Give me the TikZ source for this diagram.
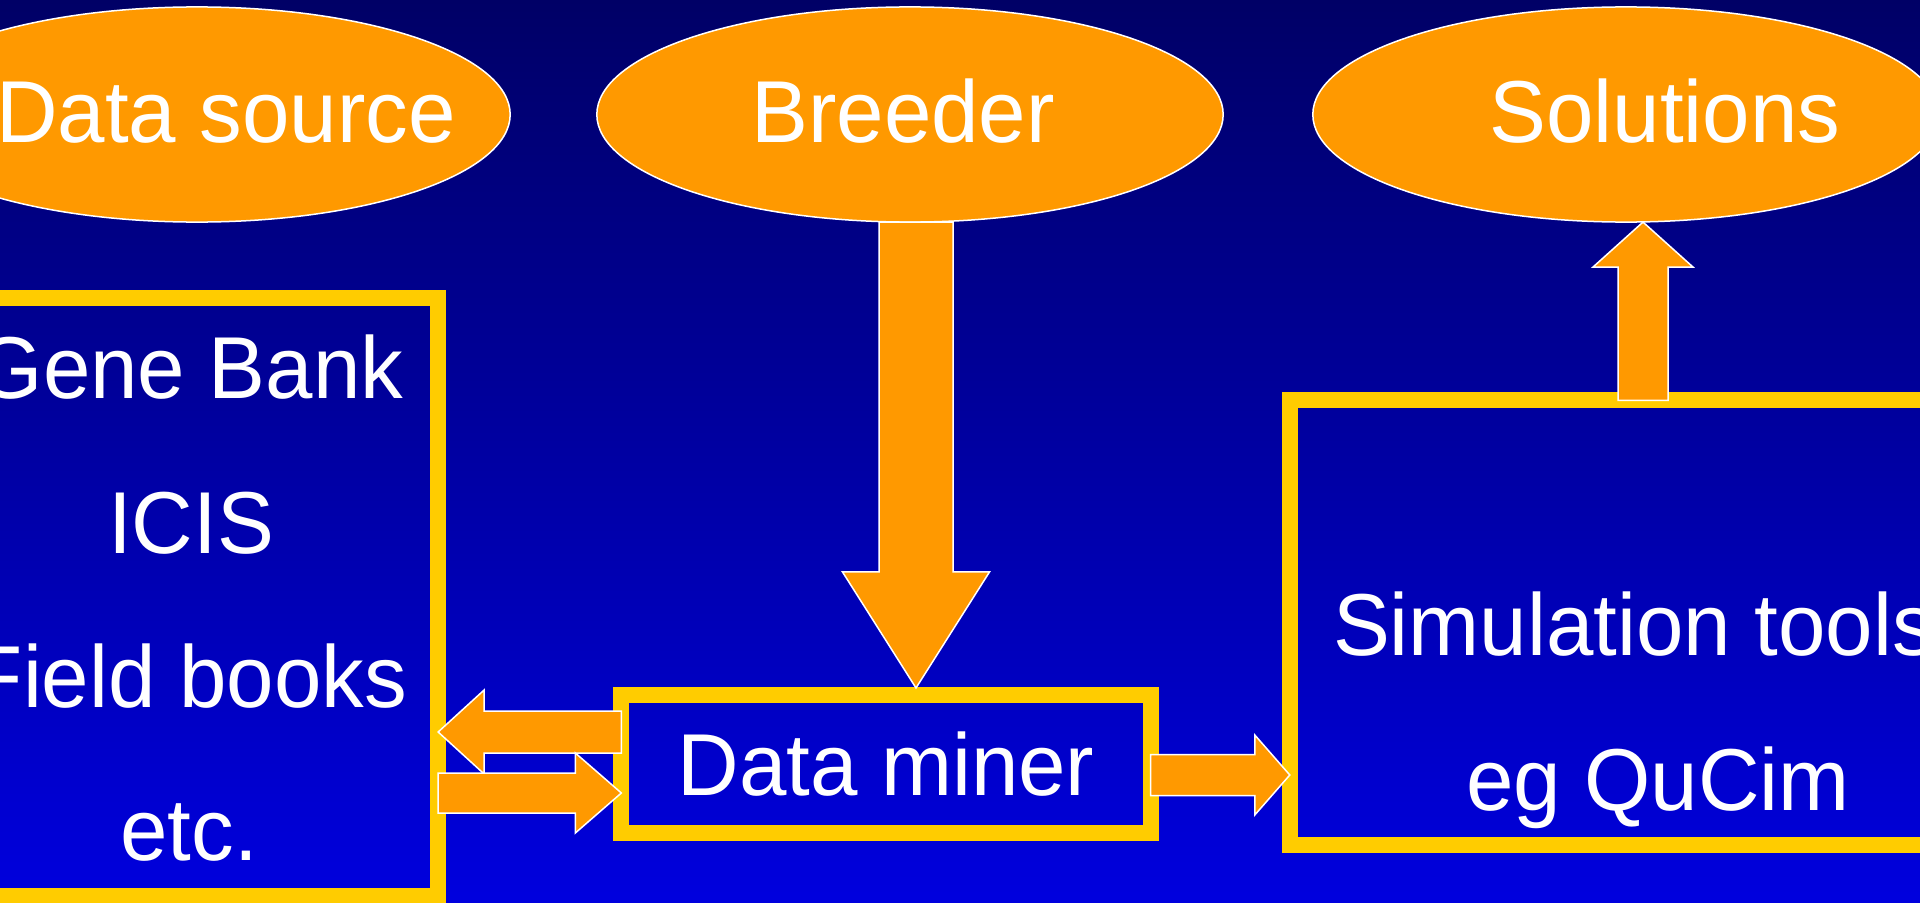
\documentclass[tikz,border=0pt]{standalone}
\usepackage{fontspec}
\setmainfont[FakeStretch=0.97]{Liberation Sans}
\usetikzlibrary{shapes.geometric,calc}
\definecolor{bgtop}{RGB}{0,0,102}
\definecolor{bgbot}{RGB}{0,0,222}
\definecolor{orng}{RGB}{255,153,0}
\definecolor{ylw}{RGB}{255,204,0}
\tikzset{
  oval/.style={ellipse, fill=orng, draw=white, line width=0.15mm, minimum width=62.6mm, minimum height=21.5mm, inner sep=0pt, outer sep=0pt},
  frame/.style={rectangle, draw=ylw, line width=1.6mm, inner sep=0pt, outer sep=0pt},
  txt/.style={text=white, font=\fontsize{25}{30}\selectfont},
  lbl/.style={txt, inner sep=0pt, anchor=base},
  barrow/.style={fill=orng, draw=white, line width=0.15mm, line join=miter},
}
\begin{document}
\begin{tikzpicture}[x=0.01cm, y=-0.01cm]
\useasboundingbox (0,0) rectangle (1920,903);
\clip (0,0) rectangle (1920,903);
\shade[top color=bgtop, bottom color=bgbot] (0,0) rectangle (1920,903);

% ellipses
\node[oval] (ds) at (197,114.5) {};
\node[oval] (br) at (910,114.5) {};
\node[oval] (so) at (1626,114.5) {};
\node[lbl] (dsT) at (226,143) {Data source};
\node[lbl] (brT) at (903,143) {Breeder};
\node[lbl] (soT) at (1665,143) {Solutions};

% boxes
\node[frame, minimum width=49mm, minimum height=59.8mm] (gb) at (193,597) {};
\node[lbl] (gb1) at (190,398) {Gene Bank};
\node[lbl] (gb2) at (191,553) {ICIS};
\node[lbl] (gb3) at (189,707) {Field books};
\node[lbl] (gb4) at (189,860) {etc.};

\node[frame, txt, minimum width=52.9mm, minimum height=13.8mm] (dm) at (886,764) {Data miner};

\node[frame, minimum width=73.4mm, minimum height=44.45mm] (sim) at (1657,622.75) {};
\node[lbl] (sim1) at (1634,655) {Simulation tools};
\node[lbl] (sim2) at (1658,810) {eg QuCim};

% Breeder -> Data miner
\coordinate (b1) at ($(br.south)+(6,0)$);
\coordinate (b2) at ($(b1 |- dm.north)+(0,-7)$);
\draw[barrow] ($(b1)+(-37,0)$) -- ($(b1)+(37,0)$) -- ($(b2)+(37,-116)$) -- ($(b2)+(73.5,-116)$) -- (b2) -- ($(b2)+(-73.5,-116)$) -- ($(b2)+(-37,-116)$) -- cycle;

% Data miner -> Gene bank
\coordinate (l1) at ($(dm.west)+(0,-32)$);
\coordinate (l2) at (gb.east |- l1);
\draw[barrow] ($(l1)+(0,-21)$) -- ($(l2)+(46,-21)$) -- ($(l2)+(46,-42)$) -- (l2) -- ($(l2)+(46,42)$) -- ($(l2)+(46,21)$) -- ($(l1)+(0,21)$) -- cycle;

% Gene bank -> Data miner
\coordinate (r2) at ($(dm.west)+(0,29)$);
\coordinate (r1) at (gb.east |- r2);
\draw[barrow] ($(r1)+(0,-20)$) -- ($(r2)+(-46,-20)$) -- ($(r2)+(-46,-40)$) -- (r2) -- ($(r2)+(-46,40)$) -- ($(r2)+(-46,20)$) -- ($(r1)+(0,20)$) -- cycle;

% Data miner -> Simulation
\coordinate (m1) at ($(dm.east)+(0,11)$);
\coordinate (m2) at (sim.west |- m1);
\draw[barrow] ($(m1)+(0,-20.5)$) -- ($(m2)+(-35,-20.5)$) -- ($(m2)+(-35,-40)$) -- (m2) -- ($(m2)+(-35,40)$) -- ($(m2)+(-35,20.5)$) -- ($(m1)+(0,20.5)$) -- cycle;

% Simulation -> Solutions
\coordinate (s1) at ($(sim.north)+(-14,0)$);
\coordinate (s2) at (s1 |- so.south);
\draw[barrow] ($(s1)+(-25,0)$) -- ($(s2)+(-25,45)$) -- ($(s2)+(-50,45)$) -- (s2) -- ($(s2)+(50,45)$) -- ($(s2)+(25,45)$) -- ($(s1)+(25,0)$) -- cycle;
\end{tikzpicture}
\end{document}
